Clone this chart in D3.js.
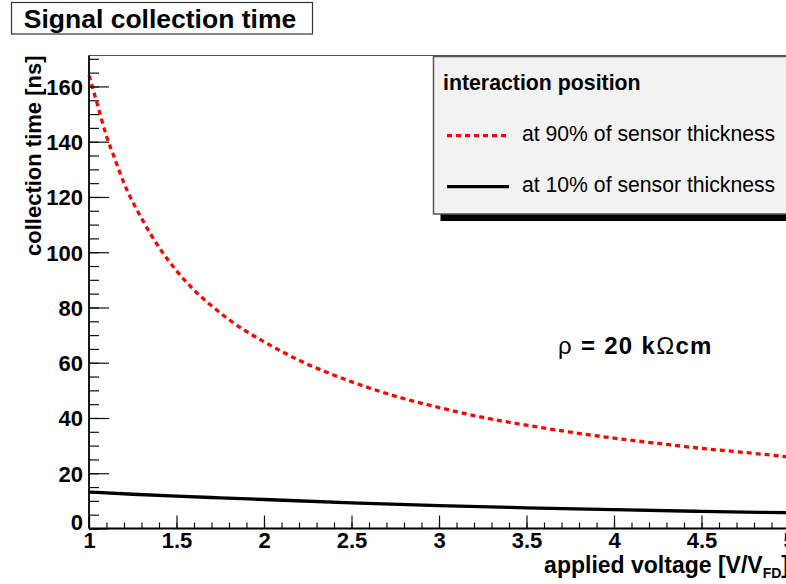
<!DOCTYPE html>
<html>
<head>
<meta charset="utf-8">
<script src="https://cdn.jsdelivr.net/npm/d3@7"></script>
<style>
  html, body { margin: 0; padding: 0; background: #fff; }
  svg { display: block; font-family: "Liberation Sans", Arial, Helvetica, sans-serif; }
</style>
</head>
<body>
<script>
// ---- data ----
const voltage90 = [1.0, 1.05, 1.1, 1.15, 1.2, 1.3, 1.4, 1.5, 1.6, 1.7, 1.8, 1.9, 2.0, 2.2, 2.4, 2.6, 2.8, 3.0, 3.25, 3.5, 3.75, 4.0, 4.25, 4.5, 4.75, 5.0];
const time90 = [164, 153, 142, 133.4, 125, 112.3, 101.8, 93.3, 86.3, 80.6, 75.6, 71.3, 67.6, 60.9, 55.5, 50.9, 47.0, 43.8, 40.2, 37.4, 34.9, 32.7, 30.8, 29.0, 27.5, 25.9];
const voltage10 = [1.0, 1.25, 1.5, 1.75, 2.0, 2.5, 3.0, 3.5, 4.0, 4.5, 5.0];
const time10 = [13.2, 12.4, 11.7, 11.1, 10.5, 9.3, 8.3, 7.5, 6.8, 6.2, 5.7];
const xMajorTicks = [1, 1.5, 2, 2.5, 3, 3.5, 4, 4.5, 5];
const yMajorTicks = [0, 20, 40, 60, 80, 100, 120, 140, 160];
const titleText = "Signal collection time";
const xTitle = "applied voltage [V/V";
const xTitleSub = "FD";
const yTitle = "collection time [ns]";
const legendHeader = "interaction position";
const legendLabels = ["at 90% of sensor thickness", "at 10% of sensor thickness"];

// ---- layout ----
const W = 786, H = 584;
const mLeft = 89, mTop = 55.5, mBottom = 528.5, mRight = 789;
const svg = d3.select("body").append("svg").attr("width", W).attr("height", H);
svg.append("rect").attr("width", W).attr("height", H).attr("fill", "#fff");

const x = d3.scaleLinear().domain([1, 5]).range([mLeft, mRight]);
const y = d3.scaleLinear().domain([0, 171.2]).range([mBottom, mTop]);

// frame
svg.append("line").attr("x1", mLeft).attr("x2", W + 5).attr("y1", mTop).attr("y2", mTop)
  .attr("stroke", "#555").attr("stroke-width", 1.2);

// curves
const line = d3.line().x(d => x(d[0])).y(d => y(d[1])).curve(d3.curveMonotoneX);
svg.append("path").datum(voltage90.map((v, i) => [v, time90[i]]))
  .attr("d", line).attr("fill", "none").attr("stroke", "#ff0000")
  .attr("stroke-width", 3.3).attr("stroke-dasharray", "5,4");
svg.append("path").datum(voltage10.map((v, i) => [v, time10[i]]))
  .attr("d", line).attr("fill", "none").attr("stroke", "#000")
  .attr("stroke-width", 3.3);

// y axis ticks
const yMinor = d3.range(0, 171, 5);
svg.append("g").attr("transform", `translate(${mLeft},0)`)
  .call(d3.axisRight(y).tickValues(yMinor).tickSize(10).tickFormat(""))
  .call(g => g.select(".domain").remove())
  .selectAll("line").attr("stroke", "#111").attr("stroke-width", 1.2);
svg.append("g").attr("transform", `translate(${mLeft},0)`)
  .call(d3.axisRight(y).tickValues(yMajorTicks).tickSize(20).tickFormat(""))
  .call(g => g.select(".domain").remove())
  .selectAll("line").attr("stroke", "#111").attr("stroke-width", 1.2);
const yLab = svg.append("g").attr("transform", `translate(${mLeft},0)`)
  .call(d3.axisLeft(y).tickValues(yMajorTicks).tickSize(0).tickPadding(6).tickFormat(d3.format("d")));
yLab.select(".domain").remove();
yLab.selectAll("text").attr("font-size", 22).attr("font-weight", "bold")
  .attr("fill", "#000").attr("font-family", "Liberation Sans, Arial, sans-serif")
  .attr("dy", d => d === 0 ? "0.05em" : "0.36em");

// x axis ticks
const xMinor = d3.range(10, 51, 1).map(v => v / 10);
svg.append("g").attr("transform", `translate(0,${mBottom})`)
  .call(d3.axisTop(x).tickValues(xMinor).tickSize(6).tickFormat(""))
  .call(g => g.select(".domain").remove())
  .selectAll("line").attr("stroke", "#111").attr("stroke-width", 1.2);
svg.append("g").attr("transform", `translate(0,${mBottom})`)
  .call(d3.axisTop(x).tickValues(xMajorTicks).tickSize(13).tickFormat(""))
  .call(g => g.select(".domain").remove())
  .selectAll("line").attr("stroke", "#111").attr("stroke-width", 1.2);
const xLab = svg.append("g").attr("transform", `translate(0,${mBottom})`)
  .call(d3.axisBottom(x).tickValues(xMajorTicks).tickSize(0).tickPadding(4).tickFormat(d3.format("")));
xLab.select(".domain").remove();
xLab.selectAll("text").attr("font-size", 22).attr("font-weight", "bold")
  .attr("fill", "#000").attr("font-family", "Liberation Sans, Arial, sans-serif");

// axis lines
svg.append("line").attr("x1", mLeft).attr("x2", mLeft).attr("y1", mTop).attr("y2", mBottom)
  .attr("stroke", "#000").attr("stroke-width", 1.8);
svg.append("line").attr("x1", mLeft).attr("x2", W + 5).attr("y1", mBottom).attr("y2", mBottom)
  .attr("stroke", "#000").attr("stroke-width", 1.8);

// axis titles
const xt = svg.append("text").attr("x", mRight).attr("y", 573).attr("text-anchor", "end")
  .attr("font-size", 23).attr("font-weight", "bold");
xt.append("tspan").text(xTitle);
xt.append("tspan").text(xTitleSub).attr("font-size", 14).attr("dy", 5);
xt.append("tspan").text("]").attr("dy", -5);

svg.append("text").attr("transform", `translate(41,${mTop}) rotate(-90)`)
  .attr("text-anchor", "end").attr("font-size", 22).attr("font-weight", "bold")
  .text(yTitle);

// title box
svg.append("rect").attr("x", 11.5).attr("y", 2.5).attr("width", 301).attr("height", 31.5)
  .attr("fill", "#fff").attr("stroke", "#333").attr("stroke-width", 1.2);
svg.append("text").attr("x", 160).attr("y", 27.5).attr("text-anchor", "middle")
  .attr("font-size", 26.5).attr("font-weight", "bold").text(titleText);

// legend
const lx = 433.5, ly = 56.5, lw = 370, lh = 157.5;
svg.append("rect").attr("x", lx + 7).attr("y", ly + 7).attr("width", lw).attr("height", lh).attr("fill", "#000");
svg.append("rect").attr("x", lx).attr("y", ly).attr("width", lw).attr("height", lh)
  .attr("fill", "#f2f2f2").attr("stroke", "#555").attr("stroke-width", 1.5);
svg.append("text").attr("x", 443).attr("y", 90).attr("font-size", 21.3).attr("font-weight", "bold")
  .text(legendHeader);
const entryY = [135.7, 186.7];
const entryStyle = [{ c: "#ff0000", dash: "5,4" }, { c: "#000", dash: null }];
legendLabels.forEach((lab, i) => {
  svg.append("line").attr("x1", 447).attr("x2", 509).attr("y1", entryY[i]).attr("y2", entryY[i])
    .attr("stroke", entryStyle[i].c).attr("stroke-width", 3.3)
    .attr("stroke-dasharray", entryStyle[i].dash);
  svg.append("text").attr("x", 522).attr("y", entryY[i] + 5.2).attr("font-size", 21.2).text(lab);
});

// annotation
const rho = svg.append("text").attr("x", 558).attr("y", 354).attr("font-size", 24)
  .attr("letter-spacing", 1.3);
rho.append("tspan").text("ρ");
rho.append("tspan").attr("font-weight", "bold").text(" = 20 k");
rho.append("tspan").text("Ω");
rho.append("tspan").attr("font-weight", "bold").text("cm");
</script>
</body>
</html>
